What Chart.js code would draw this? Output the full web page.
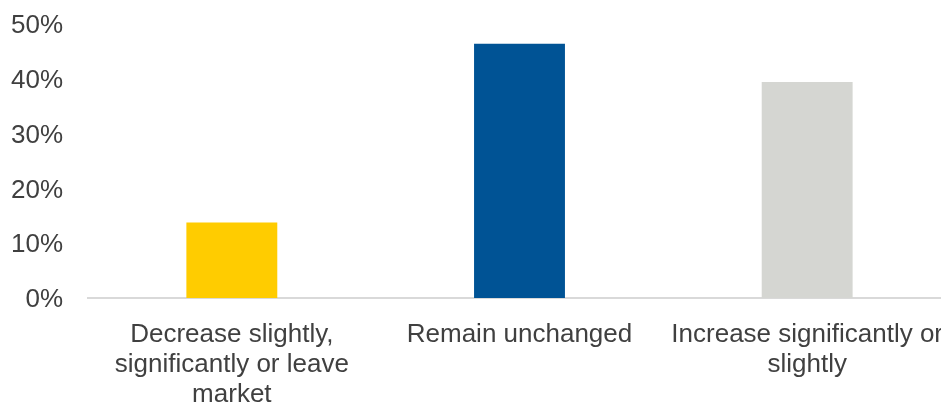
<!DOCTYPE html>
<html>
<head>
<meta charset="utf-8">
<script src="https://cdn.jsdelivr.net/npm/chart.js@4/dist/chart.umd.min.js"></script>
<style>
  html, body { margin: 0; padding: 0; overflow: hidden; background: #fff; }
  #wrap { position: relative; width: 951px; height: 405px; }
</style>
</head>
<body>
<div id="wrap"><canvas id="outlookChart"></canvas></div>
<script>
const categories = [
    ["Decrease slightly,", "significantly or leave", "market"],
    "Remain unchanged",
    ["Increase significantly or", "slightly"]
];
const shares = [13.8, 46.4, 39.4];
const barColors = ["#FFCC00", "#005395", "#D5D6D2"];
const yTicks = [0, 10, 20, 30, 40, 50];

const textColor = '#404040';
const font = { family: "'Liberation Sans', Arial, sans-serif", size: 26, lineHeight: 1.15 };

const config = {
    type: 'bar',
    data: {
        labels: categories,
        datasets: [{
            data: shares,
            backgroundColor: barColors,
            barPercentage: 0.316,
            categoryPercentage: 1
        }]
    },
    options: {
        responsive: true,
        maintainAspectRatio: false,
        animation: false,
        layout: { padding: { top: 24, right: 0, bottom: 0, left: 0 } },
        plugins: { legend: { display: false }, tooltip: { enabled: false } },
        scales: {
            x: {
                grid: { display: false },
                border: { display: true, color: '#D9D9D9', width: 2 },
                ticks: { color: textColor, font: font, padding: 14, maxRotation: 0, autoSkip: false },
                afterFit: function (scale) {
                    scale.height = 107;
                    scale.paddingLeft = 0;
                    scale.paddingRight = 0;
                }
            },
            y: {
                min: 0,
                max: 50,
                grid: { display: false, drawTicks: false },
                border: { display: false },
                afterBuildTicks: function (scale) {
                    scale.ticks = yTicks.map(v => ({ value: v }));
                },
                ticks: {
                    color: textColor,
                    font: font,
                    padding: 25,
                    labelOffset: 2,
                    callback: v => v + '%'
                },
                afterFit: function (scale) {
                    scale.width = 88;
                    scale.paddingTop = 0;
                    scale.paddingBottom = 0;
                }
            }
        }
    }
};

window.onload = function () {
    const ctx = document.getElementById('outlookChart').getContext('2d');
    new Chart(ctx, config);
};
</script>
</body>
</html>
